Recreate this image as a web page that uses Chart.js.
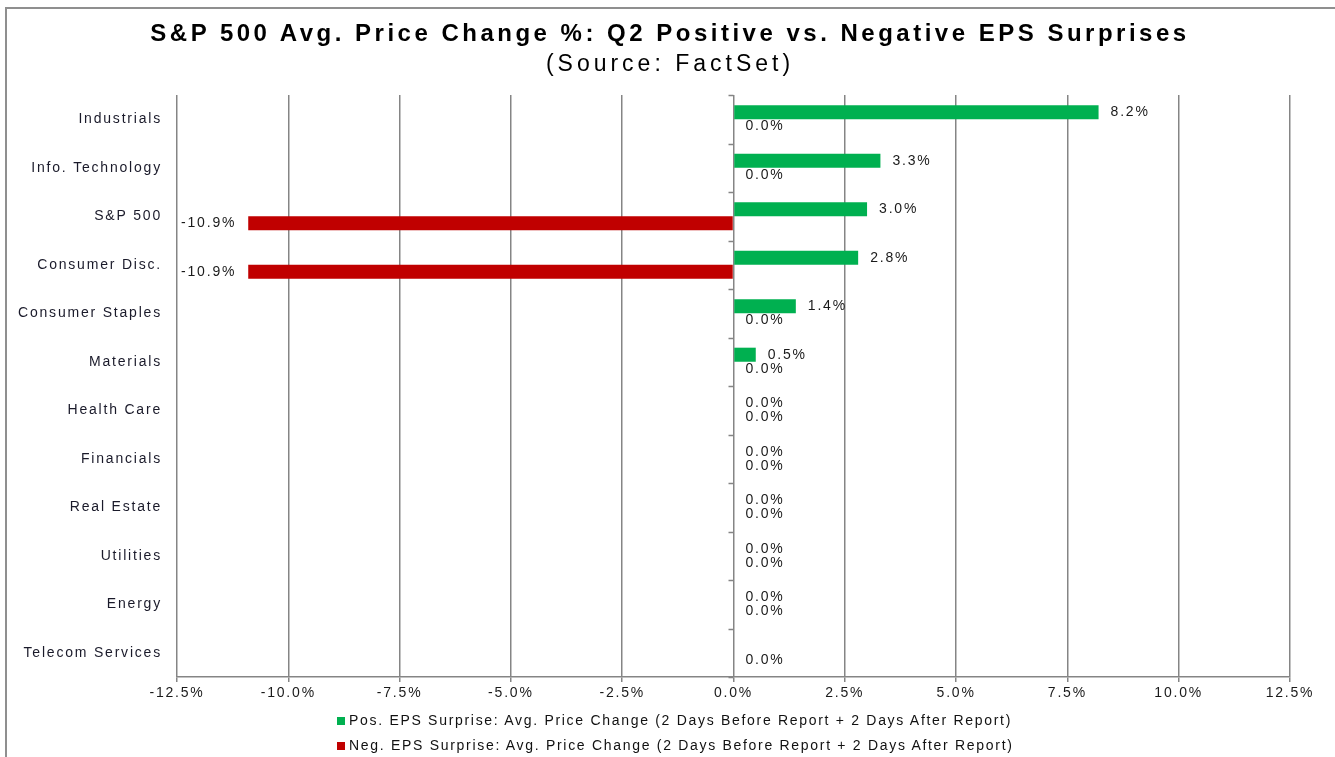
<!DOCTYPE html>
<html>
<head>
<meta charset="utf-8">
<title>S&amp;P 500 Avg. Price Change</title>
<script src="https://cdn.jsdelivr.net/npm/chart.js@4.4.0/dist/chart.umd.min.js"></script>
<style>
  body { margin: 0; background: #fff; }
  #wrap { position: relative; width: 1335px; height: 757px; overflow: hidden; }
  #frame { position: absolute; left: 5px; top: 7px; right: -4px; bottom: -4px;
           border-left: 2px solid #8f8f8f; border-top: 2px solid #8f8f8f; }
  #chart { position: absolute; left: 0; top: 0; }
  .ttl { position: absolute; left: 0; width: 1340px; text-align: center; color: #000;
         font-family: "Liberation Sans", Arial, sans-serif; white-space: nowrap; }
  .leg { position: absolute; left: 337px; height: 20px; line-height: 20px;
         font: 14px "Liberation Sans", Arial, sans-serif; letter-spacing: 1.7px; color: #111; white-space: nowrap; }
  .leg i { display: inline-block; width: 8px; height: 8px; margin-right: 4px; vertical-align: 0px; }
</style>
</head>
<body>
<div id="wrap">
  <div id="frame"></div>
  <canvas id="chart" width="1335" height="757"></canvas>
  <div class="ttl" style="top:19px; font-size:24px; font-weight:bold; letter-spacing:3.5px; line-height:28px">S&amp;P 500 Avg. Price Change %: Q2 Positive vs. Negative EPS Surprises</div>
  <div class="ttl" style="top:49px; font-size:23px; letter-spacing:4px; line-height:28px">(Source: FactSet)</div>
  <div class="leg" style="top:712px"><i style="background:#00b050"></i>Pos. EPS Surprise: Avg. Price Change (2 Days Before Report + 2 Days After Report)</div>
  <div class="leg" style="top:737px"><i style="background:#c00000"></i>Neg. EPS Surprise: Avg. Price Change (2 Days Before Report + 2 Days After Report)</div>
</div>
<script>
// --- data ---
const sectors = ['Industrials', 'Info. Technology', 'S&P 500', 'Consumer Disc.', 'Consumer Staples',
  'Materials', 'Health Care', 'Financials', 'Real Estate', 'Utilities', 'Energy', 'Telecom Services'];
const posSurprise = [8.2, 3.3, 3.0, 2.8, 1.4, 0.5, 0.0, 0.0, 0.0, 0.0, 0.0, null];
const negSurprise = [0.0, 0.0, -10.9, -10.9, 0.0, 0.0, 0.0, 0.0, 0.0, 0.0, 0.0, 0.0];
const xTicks = [-12.5, -10, -7.5, -5, -2.5, 0, 2.5, 5, 7.5, 10, 12.5];

const FONT = '"Liberation Sans", Arial, sans-serif';
const GRID = '#858585';
const LS = '1.8px';

// canvas letter spacing (reference text is wide)
const spacing = {
  id: 'spacing',
  beforeUpdate(c) { c.ctx.letterSpacing = LS; },
  beforeDraw(c) { c.ctx.letterSpacing = LS; }
};

// value labels next to bar ends
const valueLabels = {
  id: 'valueLabels',
  afterDatasetsDraw(chart) {
    const ctx = chart.ctx;
    ctx.save();
    ctx.font = '14px ' + FONT;
    ctx.fillStyle = '#1a1a1a';
    ctx.textBaseline = 'middle';
    chart.data.datasets.forEach((ds, i) => {
      chart.getDatasetMeta(i).data.forEach((bar, j) => {
        const v = ds.data[j];
        if (v === null || v === undefined) return;
        const txt = v.toFixed(1) + '%';
        if (v < 0) {
          ctx.textAlign = 'right';
          ctx.fillText(txt, bar.x - 12, bar.y);
        } else {
          ctx.textAlign = 'left';
          ctx.fillText(txt, bar.x + 12, bar.y);
        }
      });
    });
    ctx.restore();
  }
};

// small tick marks on the zero line between categories
const catTicks = {
  id: 'catTicks',
  afterDraw(chart) {
    const ctx = chart.ctx;
    const xs = chart.scales.x, ys = chart.scales.y;
    const x0 = xs.getPixelForValue(0);
    const half = (ys.getPixelForValue(1) - ys.getPixelForValue(0)) / 2;
    ctx.save();
    ctx.strokeStyle = GRID;
    ctx.lineWidth = 1.5;
    ctx.beginPath();
    for (let i = 0; i <= sectors.length; i++) {
      const py = Math.round(ys.getPixelForValue(i) - half) + 0.5;
      ctx.moveTo(x0 - 5, py);
      ctx.lineTo(x0, py);
    }
    ctx.stroke();
    ctx.restore();
  }
};

new Chart(document.getElementById('chart'), {
  type: 'bar',
  data: {
    labels: sectors,
    datasets: [
      { label: 'Pos. EPS Surprise', data: posSurprise, backgroundColor: '#00b050',
        categoryPercentage: 0.58, barPercentage: 1.0 },
      { label: 'Neg. EPS Surprise', data: negSurprise, backgroundColor: '#c00000',
        categoryPercentage: 0.58, barPercentage: 1.0 }
    ]
  },
  options: {
    indexAxis: 'y',
    responsive: false,
    animation: false,
    layout: { padding: { left: 8, right: 45, top: 95, bottom: 50 } },
    plugins: {
      legend: { display: false },
      tooltip: { enabled: false },
      title: { display: false }
    },
    scales: {
      x: {
        min: -12.5,
        max: 12.5,
        afterBuildTicks: (s) => { s.ticks = xTicks.map(v => ({ value: v })); },
        afterFit: (s) => { s.height = 30; },
        grid: { color: GRID, lineWidth: 1.5, tickLength: 5, tickColor: GRID },
        border: { display: true, color: GRID, width: 1.5 },
        ticks: {
          color: '#1a1a1a',
          font: { family: FONT, size: 14 },
          padding: 3,
          maxRotation: 0,
          callback: (v) => Number(v).toFixed(1) + '%'
        }
      },
      y: {
        afterFit: (s) => { s.width = 169; },
        grid: { display: false, drawTicks: false },
        border: { display: false },
        ticks: { color: '#1a1a2a', font: { family: FONT, size: 14 }, padding: 15 }
      }
    }
  },
  plugins: [spacing, valueLabels, catTicks]
});
</script>
</body>
</html>
